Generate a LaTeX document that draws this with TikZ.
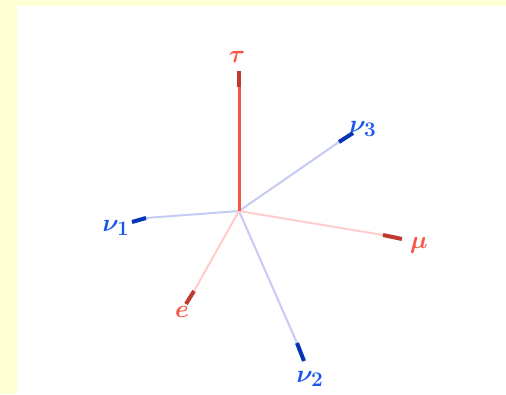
\documentclass[tikz,border=0pt]{standalone}
\definecolor{bgyellow}{HTML}{FFFFD6}
\definecolor{redline}{HTML}{F85545}
\definecolor{pinkline}{HTML}{FFCCCC}
\definecolor{blueline}{HTML}{C6CBF6}
\definecolor{tipred}{HTML}{C0392E}
\definecolor{tipblue}{HTML}{0535B5}
\definecolor{labred}{HTML}{F85545}
\definecolor{labblue}{HTML}{1A55EE}
\begin{document}
\begin{tikzpicture}[x=1pt,y=-1pt,
  redaxis/.style={draw=redline,line width=3pt},
  pinkaxis/.style={draw=pinkline,line width=2pt},
  blueaxis/.style={draw=blueline,line width=2pt},
  redtip/.style={draw=tipred,line width=4pt},
  bluetip/.style={draw=tipblue,line width=4pt},
  redlab/.style={text=labred,inner sep=0pt,font=\fontsize{28}{30}\selectfont\boldmath},
  bluelab/.style={text=labblue,inner sep=0pt,font=\fontsize{28}{30}\selectfont\boldmath}]
\useasboundingbox (0,0) rectangle (506,394);
\fill[bgyellow] (0,0) rectangle (506,394);
\fill[white] (17,6) rectangle (506,394);
\coordinate (O) at (239,211);
% tau
\coordinate (taus) at (239,87);
\coordinate (taue) at (239,71);
% nu3
\coordinate (nuthrees) at (339,142);
\coordinate (nuthreee) at (353,133);
% nu1
\coordinate (nuones) at (146,218);
\coordinate (nuonee) at (132,222);
% mu
\coordinate (mus) at (383,235);
\coordinate (mue) at (402,239);
% e
\coordinate (es) at (194,291);
\coordinate (ee) at (186,304);
% nu2
\coordinate (nutwos) at (297,343);
\coordinate (nutwoe) at (304,361);
\draw[blueaxis] (O) -- (nuthrees);
\draw[blueaxis] (O) -- (nuones);
\draw[blueaxis] (O) -- (nutwos);
\draw[pinkaxis] (O) -- (mus);
\draw[pinkaxis] (O) -- (es);
\draw[redaxis] (O) -- (taus);
\draw[redtip] (taus) -- (taue);
\draw[bluetip] (nuthrees) -- (nuthreee);
\draw[bluetip] (nuones) -- (nuonee);
\draw[bluetip] (nutwos) -- (nutwoe);
\draw[redtip] (mus) -- (mue);
\draw[redtip] (es) -- (ee);
\node[redlab] (taulab) at (237,57) {$\tau$};
\node[bluelab] (nuthreelab) at (363,129) {$\nu_3$};
\node[bluelab] (nuonelab) at (116,228) {$\nu_1$};
\node[redlab] (mulab) at (419,245) {$\mu$};
\node[redlab] (elab) at (182,312) {$e$};
\node[bluelab] (nutwolab) at (310,379) {$\nu_2$};
\end{tikzpicture}
\end{document}
